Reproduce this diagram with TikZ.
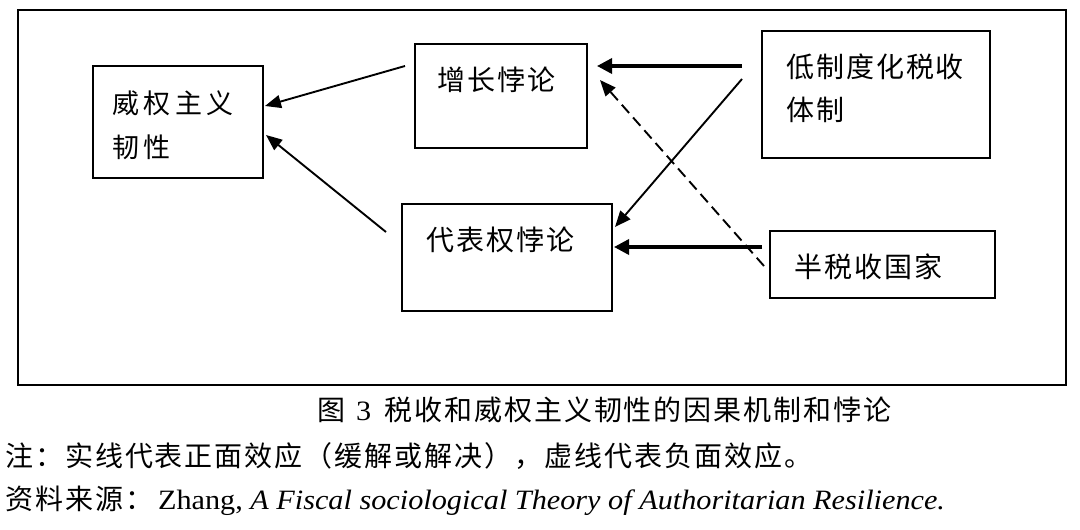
\documentclass[tikz,border=0pt]{standalone}
\usepackage{fontspec}
\setmainfont[FakeStretch=1.08]{Liberation Serif}
\newfontfamily\cjk[LetterSpace=7]{Noto Sans CJK SC}
\newfontfamily\cjkA[LetterSpace=17]{Noto Sans CJK SC}
\usetikzlibrary{arrows.meta}
\tikzset{
  box/.style={draw, rectangle, line width=2.7pt, inner sep=0pt, outer sep=0pt, anchor=north west},
  lbl/.style={inner sep=0pt, anchor=west, font=\cjk\fontsize{28pt}{34pt}\selectfont},
  lblA/.style={inner sep=0pt, anchor=west, font=\cjkA\fontsize{27pt}{34pt}\selectfont},
  captxt/.style={inner sep=0pt, anchor=west, font=\fontsize{28pt}{34pt}\selectfont},
  posarrow/.style={line width=1.9pt, -{Triangle[length=16pt,width=13pt]}},
  strongarrow/.style={line width=3.4pt, -{Triangle[length=15pt,width=15pt]}},
  negarrow/.style={line width=1.9pt, dash pattern=on 11pt off 6pt, -{Triangle[length=16pt,width=13pt]}},
}
\begin{document}
\begin{tikzpicture}[x=1pt,y=-1pt]
\useasboundingbox (0,0) rectangle (1080,530);
\node[draw, line width=2.5pt, inner sep=0pt, outer sep=0pt, anchor=north west,
      minimum width=1048pt, minimum height=375pt] (frame) at (18,10) {};
% boxes
\node[box, minimum width=170pt, minimum height=112pt] (A) at (93,66) {};
\node[box, minimum width=172pt, minimum height=104pt] (B) at (415,44) {};
\node[box, minimum width=210pt, minimum height=107pt] (C) at (402,204) {};
\node[box, minimum width=228pt, minimum height=127pt] (D) at (762,31) {};
\node[box, minimum width=225pt, minimum height=67pt] (E) at (770,231) {};
% labels
\node[lblA] (tA1) at (112,103) {威权主义};
\node[lblA] (tA2) at (112,147) {韧性};
\node[lbl] (tB) at (437,80) {增长悖论};
\node[lbl] (tC) at (426,240) {代表权悖论};
\node[lbl] (tD1) at (786,67) {低制度化税收};
\node[lbl] (tD2) at (786,110) {体制};
\node[lbl] (tE) at (794,267) {半税收国家};
% connectors
\draw[posarrow] ([shift={(-10,22)}]B.north west) -- ([shift={(2,40)}]A.north east);
\draw[posarrow] ([shift={(-16,28)}]C.north west) -- ([shift={(3,69)}]A.north east);
\draw[strongarrow] ([shift={(-20,35)}]D.north west) -- ([shift={(10,22)}]B.north east);
\draw[posarrow] ([shift={(-20,48)}]D.north west) -- ([shift={(3,23)}]C.north east);
\draw[strongarrow] ([shift={(-8,16)}]E.north west) -- ([shift={(2,43)}]C.north east);
\draw[negarrow] ([shift={(-6,35)}]E.north west) -- ([shift={(13,36)}]B.north east);
% captions
\node[captxt] (cap1) at (317,410) {{\cjk 图}\hspace{11pt}3\hspace{13pt}{\cjk 税收和威权主义韧性的因果机制和悖论}};
\node[captxt] (cap2) at (5,456) {\cjk 注：实线代表正面效应（缓解或解决），虚线代表负面效应。};
\node[captxt] (cap3) at (5,501) {{\cjk 资料来源：}\hspace{5pt}Zhang, \textit{A Fiscal sociological Theory of Authoritarian Resilience.}};
\end{tikzpicture}
\end{document}
